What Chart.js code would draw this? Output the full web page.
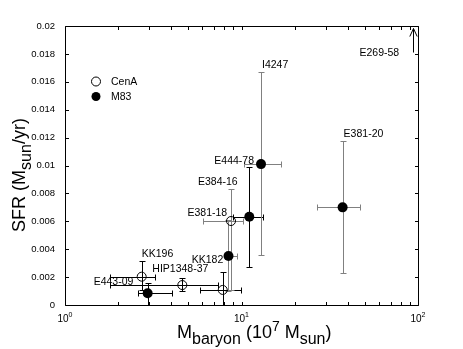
<!DOCTYPE html>
<html>
<head>
<meta charset="utf-8">
<script src="https://cdn.jsdelivr.net/npm/chart.js@4.4.1/dist/chart.umd.min.js"></script>
<style>
  html, body { margin: 0; padding: 0; background: #fff; }
  #c { display: block; }
</style>
</head>
<body>
<canvas id="c" width="463" height="349"></canvas>
<script>
// Cen A group (open circles)
const cenaNames   = ['KK196', 'HIP1348-37', 'KK182', 'E384-16'];
const cenaMass    = [2.72, 4.62, 7.83, 8.72];      // 10^7 Msun
const cenaMassLo  = [1.80, 1.80, 5.82, 6.08];
const cenaMassHi  = [3.23, 7.36, 9.94, 10.2];
const cenaSfr     = [0.00203, 0.00143, 0.00108, 0.00602];
const cenaSfrLo   = [0.0011, 0.0010, -0.0003, 0.0011];
const cenaSfrHi   = [0.00315, 0.00191, 0.00234, 0.00832];

// M83 group (filled circles)
const m83Names  = ['E443-09', 'E381-18', 'E444-78', 'I4247', 'E381-20'];
const m83Mass   = [2.94, 8.44, 11.07, 12.9, 37.4];
const m83MassLo = [2.58, 8.06, 8.99, 10.3, 26.9];
const m83MassHi = [4.05, 9.39, 13.27, 16.7, 46.9];
const m83Sfr    = [0.00084, 0.00351, 0.00633, 0.0101, 0.0070];
const m83SfrLo  = [-0.0003, 0.0010, 0.00275, 0.00358, 0.00227];
const m83SfrHi  = [0.00156, 0.0061, 0.00991, 0.01668, 0.01178];

// lower limit off the top of the plot
const limitName = 'E269-58';
const limitMass = 93.3;
const limitSfr  = 0.0181;

const yTicks = [0, 0.002, 0.004, 0.006, 0.008, 0.01, 0.012, 0.014, 0.016, 0.018, 0.02];
const xMajor = [1, 10, 100];
const xMajorLabels = ['0', '1', '2'];   // exponents of 10
const xMinor = [2, 3, 4, 5, 6, 7, 8, 9, 20, 30, 40, 50, 60, 70, 80, 90];

// label placement (pixels, relative to point x and top of error bar)
const labelOffset = {
  'KK196': [0, -4], 'HIP1348-37': [-30, -6], 'KK182': [-31, -9], 'E384-16': [-33, -4],
  'E443-09': [-54, 2], 'E381-18': [-41, -4], 'E444-78': [-35, -3], 'I4247': [1, -4],
  'E381-20': [1, -4], 'E269-58': [-54, 3]
};
const darkBars = ['KK196', 'HIP1348-37', 'KK182', 'E443-09', 'E444-78'];

const FONT = '"Liberation Sans", Arial, Helvetica, sans-serif';

function points(names, m, mlo, mhi, s, slo, shi) {
  return names.map((n, i) => ({ x: m[i], y: s[i], xLo: mlo[i], xHi: mhi[i], yLo: slo[i], yHi: shi[i], name: n }));
}

function runs(ctx, list, x, y) {
  list.forEach(r => {
    ctx.font = r[1] + 'px ' + FONT;
    ctx.fillText(r[0], x, y + (r[2] || 0));
    x += ctx.measureText(r[0]).width;
  });
}
function runsWidth(ctx, list) {
  let w = 0;
  list.forEach(r => { ctx.font = r[1] + 'px ' + FONT; w += ctx.measureText(r[0]).width; });
  return w;
}

const errorBars = {
  id: 'errorBars',
  beforeDatasetsDraw(chart) {
    const { ctx, chartArea: a, scales: { x, y } } = chart;
    ctx.save();
    ctx.beginPath();
    ctx.rect(a.left, a.top, a.right - a.left, a.bottom - a.top);
    ctx.clip();
    ctx.lineWidth = 1;
    chart.data.datasets.forEach(ds => ds.data.forEach(p => {
      ctx.strokeStyle = darkBars.includes(p.name) ? '#000' : '#808080';
      const px = Math.round(x.getPixelForValue(p.x)) + 0.5;
      const py = Math.round(y.getPixelForValue(p.y)) + 0.5;
      const x0 = Math.round(x.getPixelForValue(p.xLo)) + 0.5;
      const x1 = Math.round(x.getPixelForValue(p.xHi)) + 0.5;
      const y0 = Math.round(y.getPixelForValue(p.yLo)) + 0.5;
      const y1 = Math.round(y.getPixelForValue(p.yHi)) + 0.5;
      ctx.beginPath();
      ctx.moveTo(x0, py); ctx.lineTo(x1, py);
      ctx.moveTo(x0, py - 3); ctx.lineTo(x0, py + 3);
      ctx.moveTo(x1, py - 3); ctx.lineTo(x1, py + 3);
      ctx.moveTo(px, y0); ctx.lineTo(px, y1);
      ctx.moveTo(px - 3, y0); ctx.lineTo(px + 3, y0);
      ctx.moveTo(px - 3, y1); ctx.lineTo(px + 3, y1);
      ctx.stroke();
    }));
    ctx.restore();
  }
};

const decorations = {
  id: 'decorations',
  afterDraw(chart) {
    const { ctx, chartArea: a, scales: { x, y } } = chart;
    const L = Math.round(a.left) + 0.5, R = Math.round(a.right) + 0.5;
    const T = Math.round(a.top) + 0.5, B = Math.round(a.bottom) + 0.5;
    ctx.save();
    ctx.strokeStyle = '#000';
    ctx.fillStyle = '#000';
    ctx.lineWidth = 1;

    // box + inward ticks
    ctx.beginPath();
    ctx.rect(L, T, R - L, B - T);
    yTicks.forEach(v => {
      const py = Math.round(y.getPixelForValue(v)) + 0.5;
      ctx.moveTo(L, py); ctx.lineTo(L + 3.5, py);
      ctx.moveTo(R, py); ctx.lineTo(R - 3.5, py);
    });
    xMajor.concat(xMinor).forEach(v => {
      const px = Math.round(x.getPixelForValue(v)) + 0.5;
      ctx.moveTo(px, B); ctx.lineTo(px, B - 3.5);
      ctx.moveTo(px, T); ctx.lineTo(px, T + 3.5);
    });
    ctx.stroke();

    // x tick labels 10^n
    ctx.textBaseline = 'alphabetic';
    xMajor.forEach((v, i) => {
      const list = [['10', 10], [xMajorLabels[i], 7, -5]];
      const w = runsWidth(ctx, list);
      runs(ctx, list, x.getPixelForValue(v) - w / 2, 322);
    });

    // upper-limit arrow
    const ax = Math.round(x.getPixelForValue(limitMass)) + 0.5;
    const ay = y.getPixelForValue(limitSfr);
    ctx.beginPath();
    ctx.moveTo(ax, ay); ctx.lineTo(ax, T + 2);
    ctx.moveTo(ax - 3.7, T + 10); ctx.lineTo(ax, T + 2); ctx.lineTo(ax + 3.7, T + 10);
    ctx.stroke();

    // point labels
    ctx.font = '10.5px ' + FONT;
    ctx.textAlign = 'left';
    chart.data.datasets.forEach(ds => ds.data.forEach(p => {
      const o = labelOffset[p.name];
      ctx.fillText(p.name, x.getPixelForValue(p.x) + o[0], y.getPixelForValue(p.yHi) + o[1]);
    }));
    const lo = labelOffset[limitName];
    ctx.fillText(limitName, ax + lo[0], ay + lo[1]);

    // legend
    ctx.beginPath();
    ctx.arc(96, 81.5, 4.5, 0, Math.PI * 2);
    ctx.stroke();
    ctx.beginPath();
    ctx.arc(96, 96.5, 4.5, 0, Math.PI * 2);
    ctx.fill();
    ctx.textBaseline = 'middle';
    ctx.fillText('CenA', 111, 82);
    ctx.fillText('M83', 111, 97);

    // axis titles
    ctx.textBaseline = 'alphabetic';
    runs(ctx, [['M', 18], ['baryon', 16, 6], [' (10', 18], ['7', 14, -7], [' M', 18], ['sun', 16, 6], [')', 18]], 177, 338);
    const yt = [['SFR (M', 18], ['sun', 16, 6], ['/yr)', 18]];
    const w = runsWidth(ctx, yt);
    ctx.translate(25, 175);
    ctx.rotate(-Math.PI / 2);
    runs(ctx, yt, -w / 2, 0);
    ctx.restore();
  }
};

new Chart(document.getElementById('c'), {
  type: 'scatter',
  data: {
    datasets: [
      {
        label: 'CenA',
        data: points(cenaNames, cenaMass, cenaMassLo, cenaMassHi, cenaSfr, cenaSfrLo, cenaSfrHi),
        pointRadius: 4.5,
        pointBorderWidth: 1,
        pointBorderColor: '#000',
        pointBackgroundColor: 'rgba(0,0,0,0)'
      },
      {
        label: 'M83',
        data: points(m83Names, m83Mass, m83MassLo, m83MassHi, m83Sfr, m83SfrLo, m83SfrHi),
        pointRadius: 5,
        pointBorderWidth: 0,
        pointBorderColor: '#000',
        pointBackgroundColor: '#000'
      }
    ]
  },
  options: {
    responsive: false,
    animation: false,
    layout: { padding: { top: 26, right: 45, left: 0, bottom: 0 } },
    plugins: { legend: { display: false }, tooltip: { enabled: false } },
    scales: {
      x: {
        type: 'logarithmic',
        min: 1, max: 100,
        grid: { display: false },
        border: { display: false },
        ticks: { display: false },
        afterFit(s) { s.height = 44; }
      },
      y: {
        min: 0, max: 0.02,
        grid: { display: false },
        border: { display: false },
        afterBuildTicks(s) { s.ticks = yTicks.map(v => ({ value: v })); },
        ticks: {
          color: '#000',
          padding: 2,
          font: { family: FONT, size: 9.5 },
          callback: v => String(+v.toFixed(3))
        },
        afterFit(s) { s.width = 65; }
      }
    }
  },
  plugins: [errorBars, decorations]
});
</script>
</body>
</html>
